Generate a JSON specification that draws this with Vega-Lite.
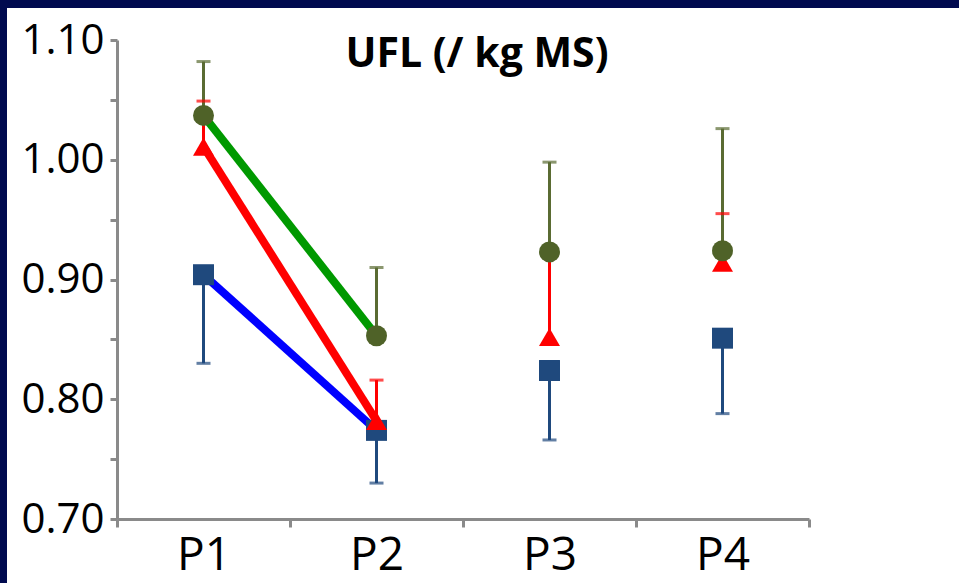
{
  "$schema": "https://vega.github.io/schema/vega-lite/v6.json",
  "width": 952,
  "height": 575,
  "autosize": {"type": "none"},
  "padding": {"left": 7, "top": 8, "right": 0, "bottom": 0},
  "background": "#000a4f",
  "config": {"view": {"fill": "white", "stroke": null}},
  "title": {
    "text": "UFL (/ kg MS)",
    "frame": "group",
    "anchor": "middle",
    "orient": "top",
    "offset": -100,
    "baseline": "alphabetic",
    "dx": -6,
    "font": "Open Sans",
    "fontWeight": "bold",
    "fontSize": 41,
    "color": "#000000"
  },
  "data": {
    "values": [
      {"period": "P1", "series": "blue", "value": 0.904, "cap": 0.830},
      {"period": "P2", "series": "blue", "value": 0.774, "cap": 0.730},
      {"period": "P3", "series": "blue", "value": 0.824, "cap": 0.766},
      {"period": "P4", "series": "blue", "value": 0.851, "cap": 0.788},
      {"period": "P1", "series": "red", "value": 1.011, "cap": 1.049},
      {"period": "P2", "series": "red", "value": 0.782, "cap": 0.816},
      {"period": "P3", "series": "red", "value": 0.852, "cap": 0.920},
      {"period": "P4", "series": "red", "value": 0.914, "cap": 0.955},
      {"period": "P1", "series": "green", "value": 1.037, "cap": 1.082},
      {"period": "P2", "series": "green", "value": 0.853, "cap": 0.910},
      {"period": "P3", "series": "green", "value": 0.923, "cap": 0.998},
      {"period": "P4", "series": "green", "value": 0.924, "cap": 1.026}
    ]
  },
  "encoding": {
    "x": {
      "field": "period",
      "type": "ordinal",
      "scale": {"type": "band", "range": [110, 802], "paddingInner": 0, "paddingOuter": 0},
      "axis": {
        "title": null,
        "offset": -64,
        "tickBand": "extent",
        "labelAngle": 0,
        "domainColor": "#8a8a8a",
        "domainWidth": 3,
        "tickColor": "#8a8a8a",
        "tickWidth": 3,
        "tickSize": 8,
        "labelFont": "Open Sans",
        "labelFontSize": 46,
        "labelColor": "#000000",
        "labelPadding": 6
      }
    },
    "y": {
      "field": "value",
      "type": "quantitative",
      "scale": {"domain": [0.7, 1.1], "range": [511, 32], "nice": false, "zero": false},
      "axis": {
        "title": null,
        "offset": -110,
        "grid": false,
        "values": [0.7, 0.75, 0.8, 0.85, 0.9, 0.95, 1.0, 1.05, 1.1],
        "labelExpr": "(round(datum.value*100)%10==0) ? format(datum.value, '.2f') : ''",
        "labelOverlap": false,
        "labelFlush": false,
        "domainColor": "#8a8a8a",
        "domainWidth": 3,
        "tickColor": "#8a8a8a",
        "tickWidth": 3,
        "tickSize": 7,
        "labelFont": "Open Sans",
        "labelFontSize": 42,
        "labelColor": "#000000",
        "labelPadding": 6
      }
    }
  },
  "layer": [
    {
      "mark": {"type": "rule", "strokeWidth": 3},
      "encoding": {
        "y2": {"field": "cap"},
        "color": {"field": "series", "type": "nominal", "legend": null,
          "scale": {"domain": ["blue", "red", "green"], "range": ["#1F497D", "#FF0000", "#5A6B32"]}}
      }
    },
    {
      "mark": {"type": "tick", "orient": "horizontal", "size": 14, "thickness": 3},
      "encoding": {
        "y": {"field": "cap", "type": "quantitative"},
        "color": {"field": "series", "type": "nominal", "legend": null,
          "scale": {"domain": ["blue", "red", "green"], "range": ["#1F497D", "#FF0000", "#5A6B32"]}}
      }
    },
    {
      "transform": [{"filter": {"field": "period", "oneOf": ["P1", "P2"]}}],
      "mark": {"type": "line", "strokeWidth": 8},
      "encoding": {
        "color": {"field": "series", "type": "nominal", "legend": null,
          "scale": {"domain": ["blue", "red", "green"], "range": ["#0000FF", "#FF0000", "#009900"]}}
      }
    },
    {
      "mark": {"type": "point", "filled": true, "opacity": 1, "size": 440},
      "encoding": {
        "shape": {"field": "series", "type": "nominal", "legend": null,
          "scale": {"domain": ["blue", "red", "green"], "range": ["square", "triangle-up", "circle"]}},
        "color": {"field": "series", "type": "nominal", "legend": null,
          "scale": {"domain": ["blue", "red", "green"], "range": ["#1F497D", "#FF0000", "#4F6228"]}}
      }
    }
  ],
  "resolve": {"scale": {"color": "independent"}}
}
